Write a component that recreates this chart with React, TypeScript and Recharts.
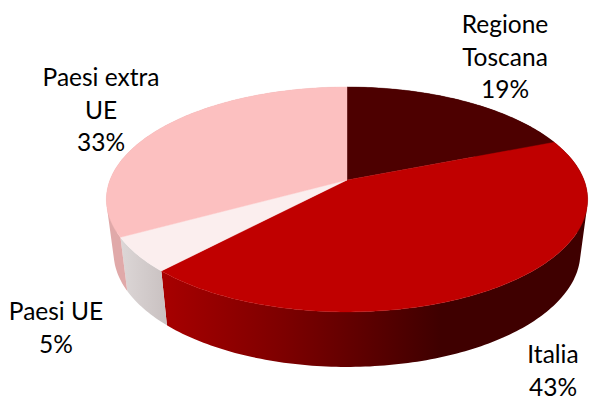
import { PieChart, Pie, Cell } from "recharts";

const categories = ["Regione Toscana", "Italia", "Paesi UE", "Paesi extra UE"];
const shares = [19, 43, 5, 33];
const labelLines = [["Regione", "Toscana"], ["Italia"], ["Paesi UE"], ["Paesi extra", "UE"]];

const topColors = ["#4d0000", "#c00000", "#fbeeee", "#fcc0c0"];
const wallColors = ["#3f0000", "url(#italiaWall)", "url(#ueWall)", "#e0a9a9"];
const labelAnchors = [
  { x: 505, y: 33 },
  { x: 553, y: 363 },
  { x: 56, y: 320 },
  { x: 101, y: 86 },
];

const data = categories.map((name, i) => ({ name, value: shares[i] }));

// the tilted disc: circle -> ellipse through a perspective map
const KY = 109.1;
const K = -0.173;

type Pt = { x: number; y: number };

function rim(cx: number, cy: number, r: number, deg: number) {
  const a = (deg * Math.PI) / 180;
  const u = Math.cos(a);
  const v = -Math.sin(a);
  const d = 1 + K * v;
  return { x: cx + (r * u) / d, y: cy + (KY * v) / d };
}

function floor(cx: number, cy: number, p: Pt) {
  return { x: cx + (p.x - cx) * 0.97, y: cy + 73 + (p.y - cy - 20) * 1.018 };
}

function arc(cx: number, cy: number, r: number, start: number, end: number) {
  const n = Math.ceil(Math.abs(end - start));
  const pts: Pt[] = [];
  for (let i = 0; i <= n; i++) pts.push(rim(cx, cy, r, start + ((end - start) * i) / n));
  return pts;
}

const toPath = (pts: Pt[]) =>
  "M" + pts.map((p) => `${p.x.toFixed(2)},${p.y.toFixed(2)}`).join("L") + "Z";

function area(pts: Pt[]) {
  let s = 0;
  pts.forEach((p, i) => {
    const q = pts[(i + 1) % pts.length];
    s += p.x * q.y - q.x * p.y;
  });
  return s;
}

// one quad per degree in a single path, all wound the same way, so the
// silhouette at the sides is swept properly and no seams show
function WallShape(props: any) {
  const { cx, cy, outerRadius, startAngle, endAngle, fill } = props;
  const top = arc(cx, cy, outerRadius, startAngle, endAngle);
  const d = top
    .slice(1)
    .map((p, i) => {
      const quad = [top[i], p, floor(cx, cy, p), floor(cx, cy, top[i])];
      return toPath(area(quad) < 0 ? quad.reverse() : quad);
    })
    .join("");
  return <path d={d} fill={fill} fillRule="nonzero" />;
}

function TopShape(props: any) {
  const { cx, cy, outerRadius, startAngle, endAngle, fill } = props;
  const top = arc(cx, cy, outerRadius, startAngle, endAngle);
  return <path d={toPath([{ x: cx, y: cy }, ...top])} fill={fill} stroke={fill} strokeWidth={0.4} />;
}

function SliceLabel({ index }: any) {
  const lines = [...labelLines[index], `${shares[index]}%`];
  const { x, y } = labelAnchors[index];
  return (
    <text x={x} y={y} textAnchor="middle" fontFamily="Lato" fontSize={24.5} fill="#000000">
      {lines.map((line, i) => (
        <tspan key={i} x={x} dy={i === 0 ? 0 : 32.5}>
          {line}
        </tspan>
      ))}
    </text>
  );
}

export default function App() {
  return (
    <div style={{ position: "absolute", left: 0, top: 0, width: 590, height: 399, background: "#fff" }}>
      <PieChart width={590} height={399} margin={{ top: 0, right: 0, bottom: 0, left: 0 }}>
        <defs>
          <linearGradient id="italiaWall" gradientUnits="userSpaceOnUse" x1={160} y1={0} x2={440} y2={0}>
            <stop offset="0" stopColor="#a80000" />
            <stop offset="0.45" stopColor="#7c0000" />
            <stop offset="1" stopColor="#3f0000" />
          </linearGradient>
          <linearGradient id="ueWall" gradientUnits="userSpaceOnUse" x1={122} y1={0} x2={166} y2={0}>
            <stop offset="0" stopColor="#dcd6d6" />
            <stop offset="1" stopColor="#c9c1c1" />
          </linearGradient>
        </defs>
        <Pie
          data={data}
          dataKey="value"
          nameKey="name"
          cx={347}
          cy={180}
          outerRadius={237}
          startAngle={90}
          endAngle={-270}
          stroke="none"
          shape={WallShape}
          isAnimationActive={false}
        >
          {data.map((d, i) => (
            <Cell key={d.name} fill={wallColors[i]} />
          ))}
        </Pie>
        <Pie
          data={data}
          dataKey="value"
          nameKey="name"
          cx={347}
          cy={180}
          outerRadius={237}
          startAngle={90}
          endAngle={-270}
          stroke="none"
          shape={TopShape}
          label={SliceLabel}
          labelLine={false}
          isAnimationActive={false}
        >
          {data.map((d, i) => (
            <Cell key={d.name} fill={topColors[i]} />
          ))}
        </Pie>
      </PieChart>
    </div>
  );
}
